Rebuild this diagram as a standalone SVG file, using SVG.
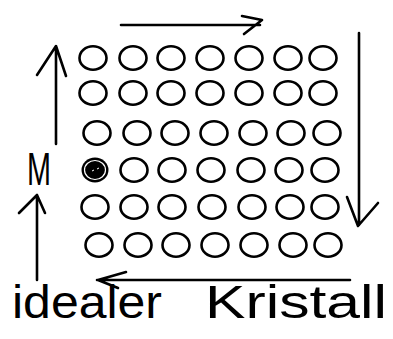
<svg xmlns="http://www.w3.org/2000/svg" width="393" height="339" viewBox="0 0 393 339">
<style>
.c{fill:none;stroke:#000;stroke-width:2.6}
.l{fill:none;stroke:#000;stroke-width:2.6;stroke-linecap:round;stroke-linejoin:round}
.t{font-family:"Liberation Sans",sans-serif;fill:#000}
</style>
<rect width="393" height="339" fill="#fff"/>
<defs><ellipse id="o" cx="0" cy="0" rx="13.5" ry="11.8" class="c"/></defs>
<g id="connectors">
<path class="l" d="M121 25 L260 25 M242 16 L262 20 L244 34"/>
<path class="l" d="M56 144 L56 47 M37 75 L56 46 L66 76"/>
<path class="l" d="M37 280 L37 195 M19 213 L37 195 L45 213"/>
<path class="l" d="M359 33 L359 225 M347 197 L358 226 L378 203"/>
<path class="l" d="M350 280 L97 280 M126 272 L98 280 L118 288"/>
</g>
<g id="row1">
<g id="n11"><use href="#o" x="93" y="58"/></g><g id="n12"><use href="#o" x="133" y="58"/></g><g id="n13"><use href="#o" x="171" y="58"/></g><g id="n14"><use href="#o" x="210" y="58"/></g><g id="n15"><use href="#o" x="249" y="58"/></g><g id="n16"><use href="#o" x="288" y="58"/></g><g id="n17"><use href="#o" x="323" y="58"/></g>
</g>
<g id="row2">
<g id="n21"><use href="#o" x="93" y="93"/></g><g id="n22"><use href="#o" x="133" y="93"/></g><g id="n23"><use href="#o" x="171" y="93"/></g><g id="n24"><use href="#o" x="210" y="93"/></g><g id="n25"><use href="#o" x="249" y="93"/></g><g id="n26"><use href="#o" x="288" y="93"/></g><g id="n27"><use href="#o" x="323" y="93"/></g>
</g>
<g id="row3">
<g id="n31"><use href="#o" x="97" y="133"/></g><g id="n32"><use href="#o" x="137" y="133"/></g><g id="n33"><use href="#o" x="175" y="133"/></g><g id="n34"><use href="#o" x="214" y="133"/></g><g id="n35"><use href="#o" x="253" y="133"/></g><g id="n36"><use href="#o" x="291" y="133"/></g><g id="n37"><use href="#o" x="327" y="133"/></g>
</g>
<g id="row4">
<g id="n41"><ellipse cx="95" cy="170" rx="13.5" ry="12.5" fill="#000"/><ellipse cx="95" cy="170" rx="10.5" ry="9.5" fill="none" stroke="#fff" stroke-width="1.2"/><path d="M92 171 l2 -1 M97 169 l2 -1" stroke="#fff" stroke-width="1"/></g>
<g id="n42"><use href="#o" x="134" y="170"/></g><g id="n43"><use href="#o" x="172" y="170"/></g><g id="n44"><use href="#o" x="211" y="170"/></g><g id="n45"><use href="#o" x="251" y="170"/></g><g id="n46"><use href="#o" x="289" y="170"/></g><g id="n47"><use href="#o" x="325" y="170"/></g>
</g>
<g id="row5">
<g id="n51"><use href="#o" x="95" y="207"/></g><g id="n52"><use href="#o" x="134" y="207"/></g><g id="n53"><use href="#o" x="172" y="207"/></g><g id="n54"><use href="#o" x="212" y="207"/></g><g id="n55"><use href="#o" x="252" y="207"/></g><g id="n56"><use href="#o" x="290" y="207"/></g><g id="n57"><use href="#o" x="325" y="207"/></g>
</g>
<g id="row6">
<g id="n61"><use href="#o" x="99" y="245"/></g><g id="n62"><use href="#o" x="138" y="245"/></g><g id="n63"><use href="#o" x="176" y="245"/></g><g id="n64"><use href="#o" x="215" y="245"/></g><g id="n65"><use href="#o" x="254" y="245"/></g><g id="n66"><use href="#o" x="293" y="245"/></g><g id="n67"><use href="#o" x="328" y="245"/></g>
</g>
<g id="label-M"><text class="t" x="27" y="185" font-size="46" textLength="24" lengthAdjust="spacingAndGlyphs">M</text></g>
<g id="label-text">
<text class="t" x="12" y="318" font-size="46" textLength="150" lengthAdjust="spacingAndGlyphs">idealer</text>
<text class="t" x="205" y="318" font-size="46" textLength="182" lengthAdjust="spacingAndGlyphs">Kristall</text>
</g>
</svg>
